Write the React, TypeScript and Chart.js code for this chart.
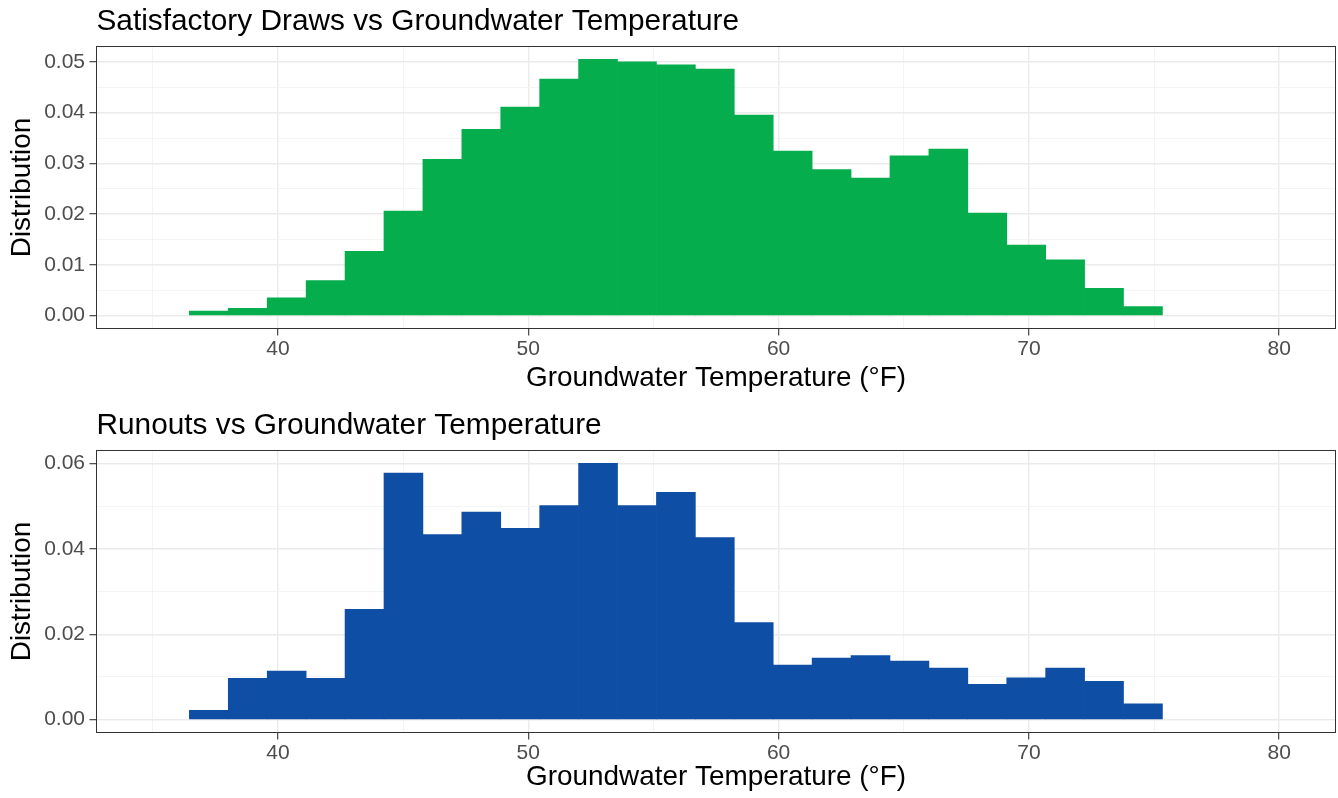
import React, { useEffect, useRef } from 'react';
import { Chart, registerables } from 'chart.js';

Chart.register(...registerables);

// Histogram bin centres (°F), bin width ≈ 1.555 °F
const binCenters = [
  37.238, 38.793, 40.348, 41.903, 43.458, 45.013, 46.568, 48.123, 49.678, 51.233,
  52.788, 54.343, 55.898, 57.453, 59.008, 60.563, 62.118, 63.673, 65.228, 66.783,
  68.338, 69.893, 71.448, 73.003, 74.558,
];

const satisfactoryDensity = [
  0.0009, 0.00145, 0.0035, 0.0069, 0.0127, 0.0206, 0.0308, 0.0367, 0.0411, 0.0466,
  0.0505, 0.05, 0.0494, 0.0486, 0.0395, 0.0324, 0.0288, 0.0271, 0.0315, 0.0328,
  0.0202, 0.0139, 0.011, 0.0054, 0.0018,
];

const runoutDensity = [
  0.0022, 0.0097, 0.0114, 0.0097, 0.0258, 0.0577, 0.0433, 0.0486, 0.0448, 0.0501,
  0.06, 0.0501, 0.0532, 0.0426, 0.0227, 0.0128, 0.0144, 0.015, 0.0137, 0.0121,
  0.0083, 0.0098, 0.0121, 0.009, 0.0037,
];

const xMajorTicks = [40, 50, 60, 70, 80];
const xMinorTicks = [35, 45, 55, 65, 75];
const topYMajorTicks = [0, 0.01, 0.02, 0.03, 0.04, 0.05];
const topYMinorTicks = [0.005, 0.015, 0.025, 0.035, 0.045];
const bottomYMajorTicks = [0, 0.02, 0.04, 0.06];
const bottomYMinorTicks = [0.01, 0.03, 0.05];

const titles = ['Satisfactory Draws vs Groundwater Temperature', 'Runouts vs Groundwater Temperature'];
const xTitle = 'Groundwater Temperature (°F)';
const yTitle = 'Distribution';

const FONT = '"Liberation Sans", Arial, Helvetica, sans-serif';

const has = (list: number[], v: number) => list.some((m) => Math.abs(m - v) < 1e-9);

const panelDecor = {
  id: 'panelDecor',
  afterDraw(chart: any, _args: any, opts: any) {
    const { ctx, chartArea: a } = chart;
    ctx.save();
    ctx.strokeStyle = '#333333';
    ctx.lineWidth = 1;
    ctx.strokeRect(a.left, a.top, a.right - a.left, a.bottom - a.top);
    ctx.fillStyle = '#000000';
    ctx.font = `${opts.size}px ${FONT}`;
    ctx.textAlign = 'left';
    ctx.textBaseline = 'alphabetic';
    ctx.fillText(opts.text, a.left, opts.baseline);
    ctx.restore();
  },
};

type PanelProps = {
  title: string;
  values: number[];
  color: string;
  yMin: number;
  yMax: number;
  yMajor: number[];
  yMinor: number[];
  padTop: number;
  xAxisHeight: number;
  titleBaseline: number;
  xTitlePad: number;
};

function Panel(p: PanelProps) {
  const ref = useRef<HTMLCanvasElement | null>(null);
  useEffect(() => {
    if (!ref.current) return;
    const xAll = [...xMinorTicks, ...xMajorTicks].sort((a, b) => a - b);
    const yAll = [...p.yMinor, ...p.yMajor].sort((a, b) => a - b);
    const gridFor = (major: number[]) => ({
      offset: false,
      drawTicks: true,
      tickLength: 7,
      tickWidth: 1.1,
      color: (c: any) => (c.tick && has(major, c.tick.value) ? '#EBEBEB' : '#F3F3F3'),
      lineWidth: (c: any) => (c.tick && has(major, c.tick.value) ? 1.4 : 0.9),
      tickColor: (c: any) => (c.tick && has(major, c.tick.value) ? '#333333' : 'rgba(0,0,0,0)'),
    });
    const chart = new Chart(ref.current, {
      type: 'bar',
      data: {
        datasets: [
          {
            data: binCenters.map((x, i) => ({ x, y: p.values[i] })),
            backgroundColor: p.color,
            borderWidth: 0,
            barPercentage: 1,
            categoryPercentage: 1,
          },
        ],
      },
      options: {
        responsive: false,
        animation: false,
        devicePixelRatio: 1,
        layout: { padding: { top: p.padTop, right: 2.5, bottom: 0, left: 0 } },
        plugins: {
          legend: { display: false },
          tooltip: { enabled: false },
          panelDecor: { text: p.title, size: 29.8, baseline: p.titleBaseline },
        } as any,
        scales: {
          x: {
            type: 'linear',
            min: 32.75,
            max: 82.25,
            offset: false,
            grid: gridFor(xMajorTicks) as any,
            border: { display: false },
            afterBuildTicks: (s: any) => {
              s.ticks = xAll.map((v) => ({ value: v }));
            },
            afterFit: (s: any) => {
              s.height = p.xAxisHeight;
            },
            ticks: {
              autoSkip: false,
              maxRotation: 0,
              padding: 1.5,
              color: '#4D4D4D',
              font: { family: FONT, size: 21 },
              callback: (v: any) => (has(xMajorTicks, Number(v)) ? String(v) : ''),
            },
            title: {
              display: true,
              text: xTitle,
              color: '#000000',
              font: { family: FONT, size: 27.9 },
              padding: { top: 0, bottom: p.xTitlePad },
            },
          },
          y: {
            type: 'linear',
            min: p.yMin,
            max: p.yMax,
            grid: gridFor(p.yMajor) as any,
            border: { display: false },
            afterBuildTicks: (s: any) => {
              s.ticks = yAll.map((v) => ({ value: v }));
            },
            afterFit: (s: any) => {
              s.width = 96.5;
            },
            ticks: {
              autoSkip: false,
              padding: 4.5,
              color: '#4D4D4D',
              font: { family: FONT, size: 21 },
              callback: (v: any) => (has(p.yMajor, Number(v)) ? Number(v).toFixed(2) : ''),
            },
            title: {
              display: true,
              text: yTitle,
              color: '#000000',
              font: { family: FONT, size: 27.9 },
              padding: { top: 5.3, bottom: 0 },
            },
          },
        },
      },
      plugins: [panelDecor],
    } as any);
    return () => chart.destroy();
  }, []);
  return <canvas ref={ref} width={1338} height={399} style={{ display: 'block', width: 1338, height: 399 }} />;
}

export default function App() {
  return (
    <div style={{ position: 'absolute', left: 0, top: 0, width: 1338, height: 798, background: '#ffffff' }}>
      <Panel
        title={titles[0]}
        values={satisfactoryDensity}
        color="#05AD4C"
        yMin={-0.002525}
        yMax={0.053025}
        yMajor={topYMajorTicks}
        yMinor={topYMinorTicks}
        padTop={46.5}
        xAxisHeight={70.5}
        titleBaseline={30}
        xTitlePad={3.5}
      />
      <Panel
        title={titles[1]}
        values={runoutDensity}
        color="#0E4EA5"
        yMin={-0.003}
        yMax={0.063}
        yMajor={bottomYMajorTicks}
        yMinor={bottomYMinorTicks}
        padTop={51.5}
        xAxisHeight={65.5}
        titleBaseline={35}
        xTitlePad={3.5}
      />
    </div>
  );
}
